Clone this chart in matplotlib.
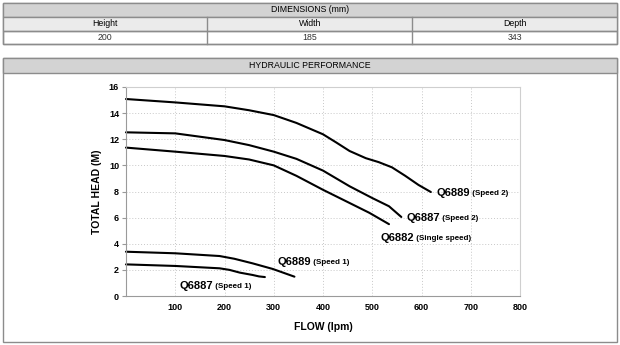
import matplotlib
matplotlib.use("Agg")
import matplotlib.pyplot as plt
from matplotlib.patches import Rectangle

plt.rcParams['font.family'] = ['Liberation Sans', 'DejaVu Sans']

# ---------------- data ----------------
dim_headers = ["Height", "Width", "Depth"]
dim_values = ["200", "185", "343"]

flow_q6889_s2 = [0, 100, 200, 250, 300, 346, 400, 427, 454, 487, 513, 540, 567, 594, 619]
head_q6889_s2 = [15.08, 14.82, 14.52, 14.22, 13.85, 13.25, 12.38, 11.75, 11.1, 10.55, 10.25, 9.85, 9.2, 8.5, 7.96]

flow_q6887_s2 = [0, 100, 200, 250, 300, 346, 400, 454, 500, 534, 559]
head_q6887_s2 = [12.53, 12.45, 11.94, 11.55, 11.05, 10.5, 9.6, 8.4, 7.5, 6.87, 6.05]

flow_q6882 = [0, 100, 200, 250, 300, 346, 400, 454, 494, 534]
head_q6882 = [11.36, 11.05, 10.72, 10.45, 10.0, 9.2, 8.13, 7.12, 6.37, 5.5]

flow_q6889_s1 = [0, 100, 190, 220, 257, 298, 342]
head_q6889_s1 = [3.39, 3.27, 3.06, 2.85, 2.5, 2.07, 1.48]

flow_q6887_s1 = [0, 100, 190, 210, 231, 257, 270, 282]
head_q6887_s1 = [2.42, 2.3, 2.12, 2.0, 1.79, 1.61, 1.5, 1.45]

curve_names = ["Q6889", "Q6887", "Q6882", "Q6889", "Q6887"]
curve_subs = ["(Speed 2)", "(Speed 2)", "(Single speed)", "(Speed 1)", "(Speed 1)"]
label_pos = [(630, 7.9), (570, 5.97), (517, 4.44), (308, 2.6), (109, 0.77)]

x_ticks = [100, 200, 300, 400, 500, 600, 700, 800]
y_ticks = [0, 2, 4, 6, 8, 10, 12, 14, 16]

# ---------------- figure ----------------
W, H = 620, 345
fig = plt.figure(figsize=(W / 100, H / 100), dpi=100)


def fx(px):
    return px / W


def fy(py):
    return 1 - py / H


def rect(x0, y0, x1, y1, fc, ec="#8c8c8c", lw=1.0):
    r = Rectangle((fx(x0), fy(y1)), fx(x1) - fx(x0), fy(y0) - fy(y1),
                  transform=fig.transFigure, facecolor=fc, edgecolor=ec, lw=lw,
                  zorder=-10)
    fig.add_artist(r)


# dimensions table
rect(3, 3, 617, 44, "white")
rect(3, 3, 617, 17, "#d3d3d3")
rect(3, 17, 617, 31, "#ebebeb")
rect(3, 31, 617, 44, "none")
for cx in (207, 412):
    fig.add_artist(plt.Line2D([fx(cx), fx(cx)], [fy(17), fy(44)],
                              transform=fig.transFigure, color="#8c8c8c", lw=1.0,
                              zorder=-9))
fig.text(fx(310), fy(10), "DIMENSIONS (mm)", ha="center", va="center", fontsize=6.3)
col_centers = [105, 310, 515]
for c, hname, val in zip(col_centers, dim_headers, dim_values):
    fig.text(fx(c), fy(24), hname, ha="center", va="center", fontsize=6.3)
    fig.text(fx(c), fy(37.5), val, ha="center", va="center", fontsize=6.3, color="#333333")

# performance panel
rect(3, 58, 617, 342, "white")
rect(3, 58, 617, 73, "#d3d3d3")
fig.text(fx(310), fy(65.5), "HYDRAULIC PERFORMANCE", ha="center", va="center", fontsize=6.3)

# axes
ax = fig.add_axes([fx(126), fy(296), fx(520) - fx(126), fy(87) - fy(296)])
ax.set_zorder(5)
ax.set_xlim(0, 800)
ax.set_ylim(0, 16)
ax.set_xticks(x_ticks)
ax.set_yticks(y_ticks)
ax.tick_params(axis="both", labelsize=6.5, length=3, color="#999999", pad=2)
for lab in ax.get_xticklabels() + ax.get_yticklabels():
    lab.set_fontweight("bold")
ax.tick_params(axis="x", length=0, pad=5)
ax.grid(True, color="#c8c8c8", linestyle=(0, (1, 2)), lw=0.7)
for s in ax.spines.values():
    s.set_color("#cfcfcf")
    s.set_linewidth(0.8)
ax.spines["left"].set_color("#9a9a9a")
ax.spines["bottom"].set_color("#9a9a9a")

ax.set_xlabel("FLOW (lpm)", fontsize=7.5, fontweight="bold", labelpad=7)
ax.set_ylabel("TOTAL HEAD (M)", fontsize=7.5, fontweight="bold", labelpad=5)

series = [(flow_q6889_s2, head_q6889_s2), (flow_q6887_s2, head_q6887_s2),
          (flow_q6882, head_q6882), (flow_q6889_s1, head_q6889_s1),
          (flow_q6887_s1, head_q6887_s1)]
for fl, hd in series:
    ax.plot(fl, hd, color="black", lw=1.5, solid_capstyle="round", solid_joinstyle="round",
            clip_on=False)

for name, sub, (lx, ly) in zip(curve_names, curve_subs, label_pos):
    t = ax.text(lx, ly, name, fontsize=8, fontweight="bold", ha="left", va="center")
    ax.annotate(" " + sub, xy=(1, 0.08), xycoords=t, fontsize=5.8, fontweight="bold",
                ha="left", va="bottom")

fig.savefig("out.png", dpi=100)
